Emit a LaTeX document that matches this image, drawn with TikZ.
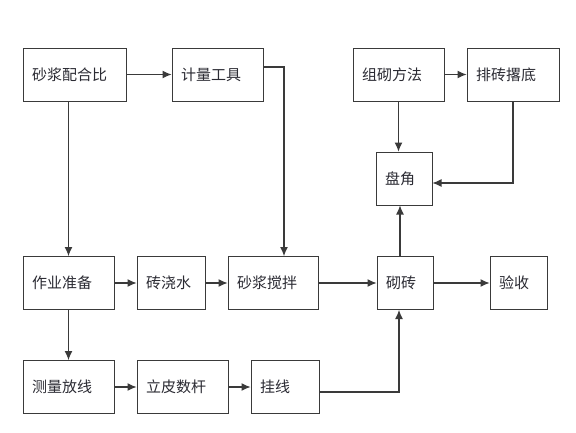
\documentclass[tikz,border=0pt]{standalone}
\usepackage{fontspec}
\newfontfamily\cjk{Noto Sans CJK SC}
\usetikzlibrary{positioning, arrows.meta}

\begin{document}
\begin{tikzpicture}[x=1pt,y=-1pt]
        \definecolor{boxline}{HTML}{3A3A3A}
        \definecolor{textdark}{HTML}{2B2B33}
        \tikzset{
            stepbox/.style={draw=boxline, line width=1pt, minimum height=53pt,
                inner xsep=9pt, align=left, text=textdark,
                font=\cjk\fontsize{15}{17}\selectfont},
            arr/.style={-{Latex[length=9pt,width=8pt]}, line width=1.1pt, draw=boxline}
        }
        \useasboundingbox[fill=white] (0,0) rectangle (576,432);

        \begin{scope}[every node/.style={stepbox}]
            \node[text width=85pt] (ratio) at (74.5,74.5) {砂浆配合比};
            \node[text width=73pt] (tools) at (217.5,74.5) {计量工具};
            \node[text width=73pt] (method) at (398.5,74.5) {组砌方法};
            \node[text width=74pt] (layout) at (513,74.5) {排砖撂底};
            \node[text width=38pt] (corner) at (404,178.5) {盘角};

            \node[text width=73pt] (prep) at (68.5,283) {作业准备};
            \node[text width=50pt] (water) at (171,283) {砖浇水};
            \node[text width=72pt] (mix) at (273,283) {砂浆搅拌};
            \node[text width=38pt] (lay) at (405,283) {砌砖};
            \node[text width=39pt] (accept) at (518.5,283) {验收};

            \node[text width=73pt] (survey) at (68.5,387) {测量放线};
            \node[text width=73pt] (rod) at (182.5,387) {立皮数杆};
            \node[text width=50pt] (string) at (285,387) {挂线};
        \end{scope}

        \coordinate (toolsturn) at (284,67);

        \draw[arr] (ratio) -- (tools);
        \draw[arr] (prep.north |- ratio.south) -- (prep.north);
        \draw[arr] (tools.east |- toolsturn) -- (toolsturn) -- (toolsturn |- mix.north);
        \draw[arr] (method) -- (layout);
        \draw[arr] (method.south) -- (method.south |- corner.north);
        \draw[arr] (layout.south) |- ([yshift=-4.5pt]corner.east);
        \draw[arr] ([xshift=-5pt]lay.north) -- ([xshift=-5pt]lay.north |- corner.south);

        \draw[arr] (prep) -- (water);
        \draw[arr] (water) -- (mix);
        \draw[arr] (mix) -- (lay);
        \draw[arr] (lay) -- (accept);
        \draw[arr] (prep.south) -- (survey.north);

        \draw[arr] (survey) -- (rod);
        \draw[arr] (rod) -- (string);
        \draw[arr] ([yshift=-5pt]string.east) -| ([xshift=-6pt]lay.south);
    \end{tikzpicture}
\end{document}
